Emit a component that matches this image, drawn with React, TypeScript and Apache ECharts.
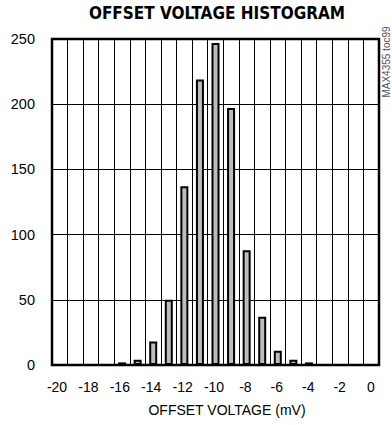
import React, { useEffect, useRef } from "react";
import * as echarts from "echarts";

// 21 one-unit bins across the plot (bin index from the left border)
const bins = ["b0","b1","b2","b3","b4","b5","b6","b7","b8","b9","b10","b11","b12","b13","b14","b15","b16","b17","b18","b19","b20"];
const counts = [0, 0, 0, 0, 2, 4, 18, 50, 137, 219, 247, 197, 88, 37, 11, 4, 2, 0, 0, 0, 0];
const xTickMin = -20;
const xTickMax = 0;
const xTickStep = 2;
const yTicks = [0, 50, 100, 150, 200, 250];

const FONT = "'Liberation Sans', Arial, sans-serif";

export default function App() {
  const ref = useRef<HTMLDivElement>(null);
  useEffect(() => {
    document.body.style.margin = "0";
    const chart = echarts.init(ref.current!, null, { renderer: "svg" });
    chart.setOption({
      animation: false,
      backgroundColor: "#fff",
      title: [
        {
          text: "OFFSET VOLTAGE HISTOGRAM",
          left: 212,
          top: -1,
          textAlign: "center",
          textStyle: { fontFamily: "'DejaVu Sans Condensed', 'DejaVu Sans', sans-serif", fontWeight: "bold", fontSize: 17, color: "#000" },
        },
        {
          text: "OFFSET VOLTAGE (mV)",
          left: 222,
          top: 398,
          textAlign: "center",
          textStyle: { fontFamily: FONT, fontWeight: "normal", fontSize: 14, color: "#000" },
        },
      ],
      grid: [
        { left: 52, right: 13, top: 39, bottom: 60, show: true, borderColor: "#000", borderWidth: 2.5, backgroundColor: "transparent", containLabel: false },
        { left: 57, right: 21, top: 39, bottom: 60, show: false },
      ],
      xAxis: [
        {
          type: "category",
          gridIndex: 0,
          data: bins,
          boundaryGap: true,
          axisLine: { show: false },
          axisTick: { show: false },
          axisLabel: { show: false },
          splitLine: { show: true, interval: 0, lineStyle: { color: "#000", width: 1 } },
        },
        {
          type: "value",
          gridIndex: 1,
          min: xTickMin,
          max: xTickMax,
          interval: xTickStep,
          axisLine: { show: false },
          axisTick: { show: false },
          splitLine: { show: false },
          axisLabel: { margin: 15, fontFamily: FONT, fontSize: 14, color: "#000" },
        },
      ],
      yAxis: [
        {
          type: "value",
          gridIndex: 0,
          min: yTicks[0],
          max: yTicks[yTicks.length - 1],
          interval: yTicks[1] - yTicks[0],
          axisLine: { show: false },
          axisTick: { show: false },
          axisLabel: { margin: 17, fontFamily: FONT, fontSize: 14.5, color: "#000" },
          splitLine: { show: true, lineStyle: { color: "#000", width: 1 } },
        },
        { type: "value", gridIndex: 1, show: false, min: 0, max: 250 },
      ],
      series: [
        {
          type: "bar",
          xAxisIndex: 0,
          yAxisIndex: 0,
          data: counts.map((v) => (v > 0 ? v : "-")),
          barWidth: 8,
          itemStyle: { color: "#bdbdbd", borderColor: "#000", borderWidth: 2 },
        },
      ],
      graphic: [
        {
          type: "text",
          x: 386,
          y: 62,
          rotation: Math.PI / 2,
          style: { text: "MAX4355 toc99", fontFamily: FONT, fontSize: 10, fill: "#555", align: "center", verticalAlign: "middle" },
        },
      ],
    });
    return () => chart.dispose();
  }, []);
  return <div ref={ref} style={{ width: 392, height: 425 }} />;
}
